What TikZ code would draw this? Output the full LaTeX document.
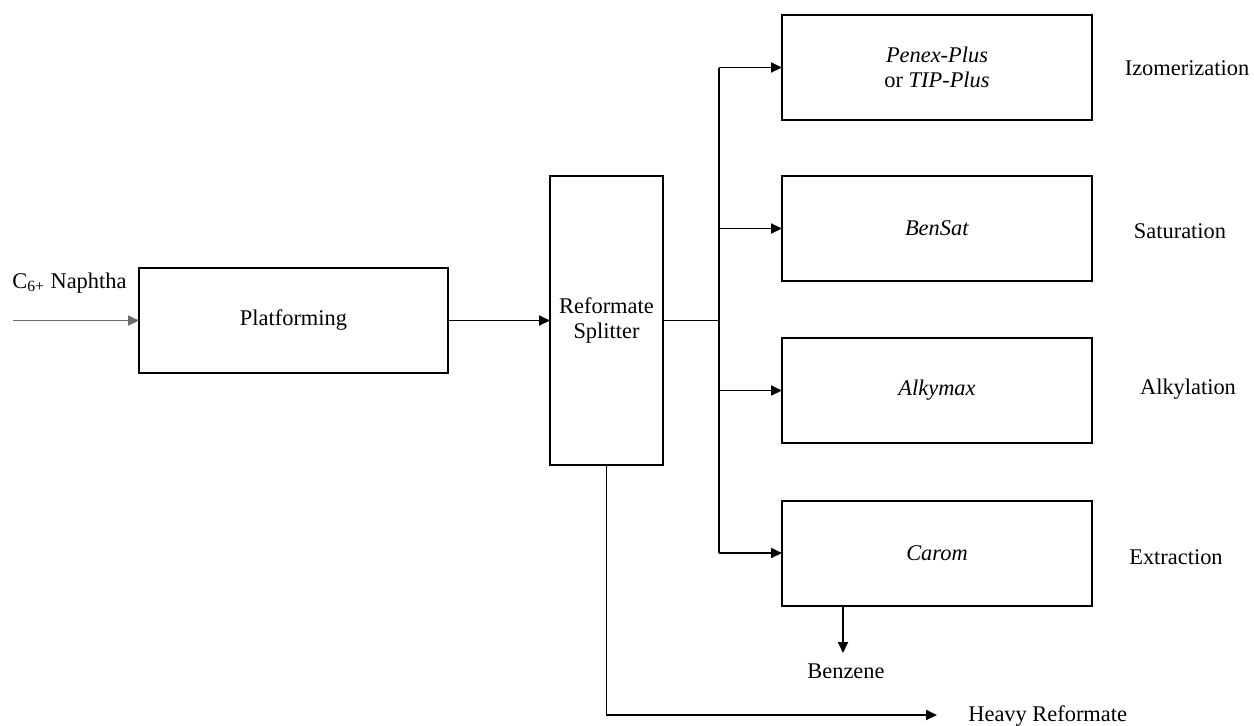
\documentclass[tikz,border=0pt]{standalone}
\usepackage{fontspec}
\setmainfont{Liberation Serif}
\usetikzlibrary{arrows.meta}
\begin{document}
\begin{tikzpicture}[x=0.5pt,y=-0.5pt,
  font=\fontsize{11.2}{12.8}\selectfont,
  box/.style={draw, line width=1pt, inner sep=0pt, outer sep=0pt, align=center},
  rbox/.style={box, minimum width=155pt, minimum height=52.5pt},
  arr/.style={line width=0.9pt, -{Triangle[length=5.5pt,width=5pt]}},
  conn/.style={line width=0.9pt},
  lbl/.style={inner sep=0pt}]
\useasboundingbox (0,0) rectangle (1254,725);
% boxes
\node[box, minimum width=154.5pt, minimum height=52.5pt] (plat) at (293.5,320.5) {Platforming};
\node[box, minimum width=56.5pt, minimum height=144.5pt] (split) at (606.5,320.5) {Reformate\\Splitter};
\node[rbox] (pen) at (937,67.5) {\textit{Penex-Plus}\\or \textit{TIP-Plus}};
\node[rbox] (ben) at (937,228.5) {\textit{BenSat}};
\node[rbox] (alk) at (937,390.5) {\textit{Alkymax}};
\node[rbox] (car) at (937,553) {\textit{Carom}};
% labels
\node[lbl, anchor=west] (naph) at (12,283) {C\textsubscript{6+} Naphtha};
\node[lbl] (izo) at (1187,68) {Izomerization};
\node[lbl] (sat) at (1180,231) {Saturation};
\node[lbl] (alky) at (1188,389) {Alkylation};
\node[lbl] (ext) at (1176,557) {Extraction};
\node[lbl] (benz) at (846,671) {Benzene};
\node[lbl, anchor=west] (heavy) at (968,716) {Heavy Reformate};
% coordinates
\coordinate (in) at (13,320.5);
\coordinate (bus) at (719,320.5);
\coordinate (bzt) at (843,653);
\coordinate (hr) at (937,715);
% connectors
\draw[arr, draw=gray!85!black] (in) -- (plat.west);
\draw[arr] (plat.east) -- (split.west);
\draw[conn] (split.east) -- (bus);
\draw[conn] (bus |- pen.west) -- (bus |- car.west);
\draw[arr] (bus |- pen.west) -- (pen.west);
\draw[arr] (bus |- ben.west) -- (ben.west);
\draw[arr] (bus |- alk.west) -- (alk.west);
\draw[arr] (bus |- car.west) -- (car.west);
\draw[arr] (car.south -| bzt) -- (bzt);
\draw[arr] (split.south) |- (hr);
\end{tikzpicture}
\end{document}
